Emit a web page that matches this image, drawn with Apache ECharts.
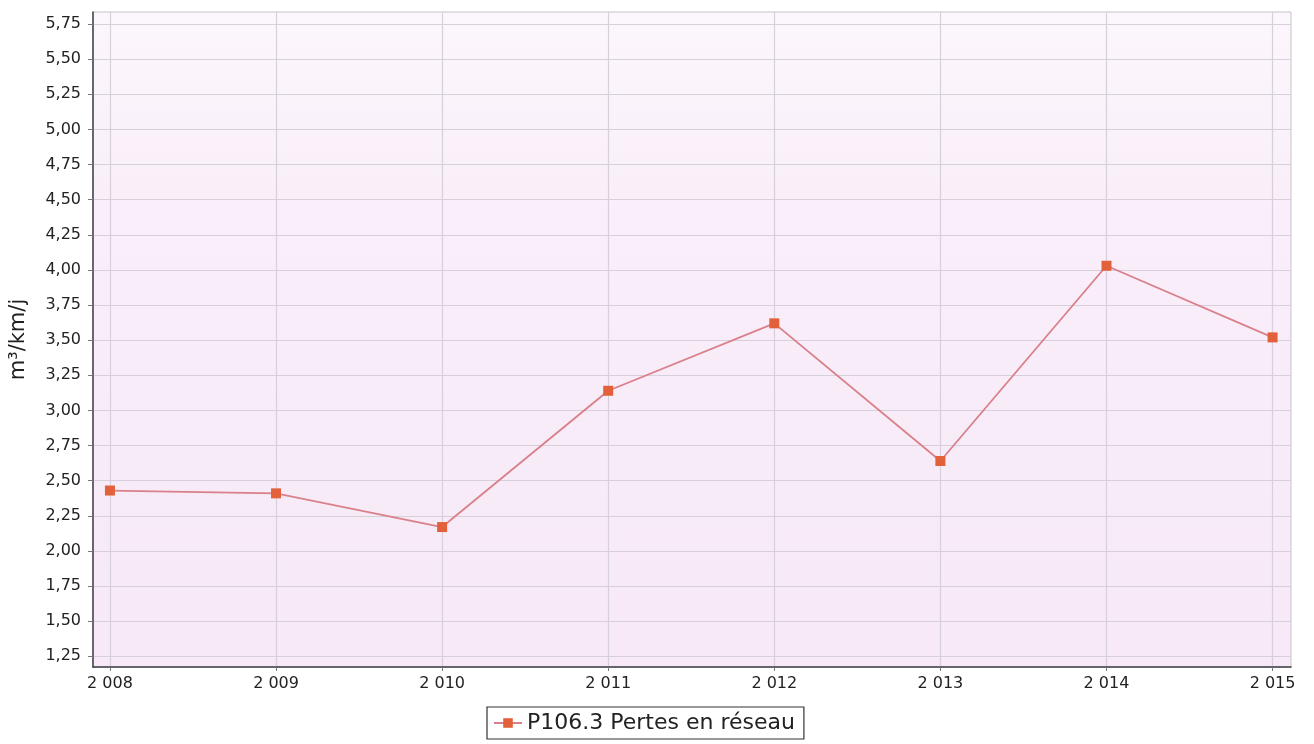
<!DOCTYPE html>
<html>
<head>
<meta charset="utf-8">
<script src="https://cdn.jsdelivr.net/npm/echarts@6/dist/echarts.min.js"></script>
<style>
html,body{margin:0;padding:0;background:#ffffff;}
#chart{width:1314px;height:744px;}
</style>
</head>
<body>
<div id="chart"></div>
<script>
const years = [2008, 2009, 2010, 2011, 2012, 2013, 2014, 2015];
const values = [2.43, 2.41, 2.17, 3.14, 3.62, 2.64, 4.03, 3.52];
const yTicks = [1.25, 1.5, 1.75, 2.0, 2.25, 2.5, 2.75, 3.0, 3.25, 3.5, 3.75, 4.0, 4.25, 4.5, 4.75, 5.0, 5.25, 5.5, 5.75];
const seriesName = 'P106.3 Pertes en réseau';
const yAxisName = 'm³/km/j';

const chart = echarts.init(document.getElementById('chart'), null, {renderer: 'canvas'});
const font = 'DejaVu Sans';
const option = {
  animation: false,
  backgroundColor: '#ffffff',
  grid: {
    left: 93, right: 23, top: 12, bottom: 77,
    show: true,
    borderColor: '#c6c3c9',
    borderWidth: 1,
    backgroundColor: {
      type: 'linear', x: 0, y: 0, x2: 0, y2: 1,
      colorStops: [
        {offset: 0, color: '#fcf7fc'},
        {offset: 0.3, color: '#f9eef9'},
        {offset: 1, color: '#f7e9f7'}
      ]
    }
  },
  legend: {
    left: 487, top: 707,
    padding: [5, 9, 5, 6],
    borderColor: '#333',
    borderWidth: 1.2,
    borderRadius: 0,
    itemWidth: 28, itemHeight: 12, itemGap: 4,
    textStyle: {fontFamily: font, fontSize: 22, color: '#222'},
    data: [seriesName]
  },
  xAxis: {
    type: 'value',
    min: 2007.898,
    max: 2015.111,
    axisLine: {show: true, lineStyle: {color: '#3c3c44', width: 1.6}},
    axisTick: {show: true, length: 4, customValues: years, lineStyle: {color: '#777'}},
    axisLabel: {
      customValues: years,
      fontFamily: font, fontSize: 16, color: '#222', margin: 9,
      formatter: v => String(v).replace(/(\d)(\d{3})$/, '$1 $2')
    },
    splitLine: {show: true, lineStyle: {color: '#d6d0db', width: 1.2}}
  },
  yAxis: {
    type: 'value',
    min: 1.174,
    max: 5.836,
    name: yAxisName,
    nameLocation: 'middle',
    nameGap: 64,
    nameRotate: 90,
    nameTextStyle: {fontFamily: font, fontSize: 21, color: '#222'},
    axisLine: {show: true, lineStyle: {color: '#4a4a52', width: 1.6}},
    axisTick: {show: true, length: 5, customValues: yTicks, lineStyle: {color: '#777'}},
    axisLabel: {
      customValues: yTicks,
      fontFamily: font, fontSize: 16, color: '#222', margin: 12,
      formatter: v => v.toFixed(2).replace('.', ',')
    },
    splitLine: {show: true, lineStyle: {color: '#d6d0db', width: 1.2}}
  },
  series: [{
    name: seriesName,
    type: 'line',
    data: years.map((y, i) => [y, values[i]]),
    symbol: 'rect',
    symbolSize: 10,
    lineStyle: {color: '#d9808a', width: 1.8},
    itemStyle: {color: '#e2603a'},
    z: 3
  }]
};
chart.setOption(option);
</script>
</body>
</html>
